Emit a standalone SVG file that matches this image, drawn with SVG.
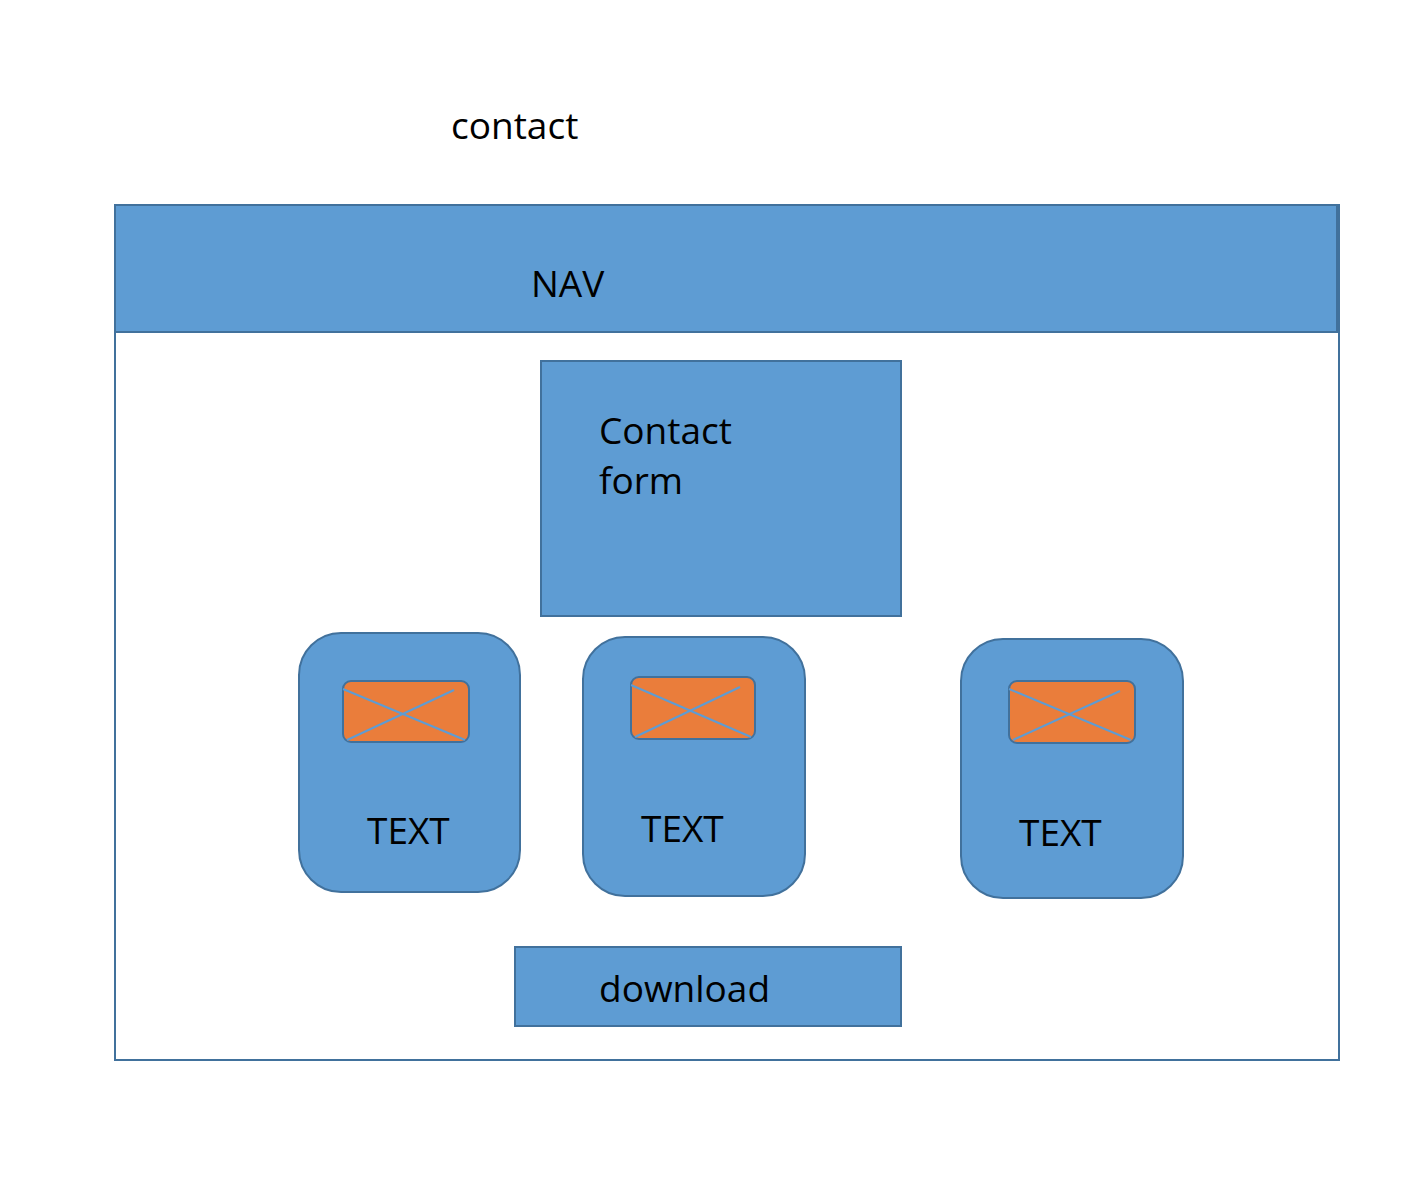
<svg xmlns="http://www.w3.org/2000/svg" width="1418" height="1194" viewBox="0 0 1418 1194">
<style>
.box{fill:#5E9CD3;stroke:#41719C;stroke-width:2}
.img{fill:#EA7D3B;stroke:#41719C;stroke-width:2}
.x{stroke:#5E9CD3;stroke-width:2}
text{font-family:"Open Sans","Liberation Sans",sans-serif;font-size:37px;fill:#000}
</style>
<rect width="1418" height="1194" fill="#fff"/>
<g id="title"><text x="451" y="139">contact</text></g>
<g id="frame"><rect x="115" y="205" width="1224" height="855" fill="#fff" stroke="#41719C" stroke-width="2"/></g>
<g id="nav"><rect class="box" x="115" y="205" width="1222" height="127"/><text x="531" y="297">NAV</text></g>
<g id="contact-form"><rect class="box" x="541" y="361" width="360" height="255"/><text x="599" y="444">Contact</text><text x="599" y="494">form</text></g>
<g id="card1"><rect class="box" x="299" y="633" width="221" height="259" rx="42"/><rect class="img" x="343" y="681" width="126" height="61" rx="8"/><line class="x" x1="343" y1="689" x2="465" y2="740"/><line class="x" x1="347" y1="740" x2="454" y2="690"/><text x="367" y="844">TEXT</text></g>
<g id="card2"><rect class="box" x="583" y="637" width="222" height="259" rx="42"/><rect class="img" x="631" y="677" width="124" height="62" rx="8"/><line class="x" x1="631" y1="685" x2="751" y2="737"/><line class="x" x1="635" y1="737" x2="740" y2="687"/><text x="641" y="842">TEXT</text></g>
<g id="card3"><rect class="box" x="961" y="639" width="222" height="259" rx="42"/><rect class="img" x="1009" y="681" width="126" height="62" rx="8"/><line class="x" x1="1009" y1="689" x2="1131" y2="740"/><line class="x" x1="1013" y1="740" x2="1120" y2="691"/><text x="1019" y="846">TEXT</text></g>
<g id="download"><rect class="box" x="515" y="947" width="386" height="79"/><text x="599" y="1002">download</text></g>
<g id="connectors"></g>
</svg>
